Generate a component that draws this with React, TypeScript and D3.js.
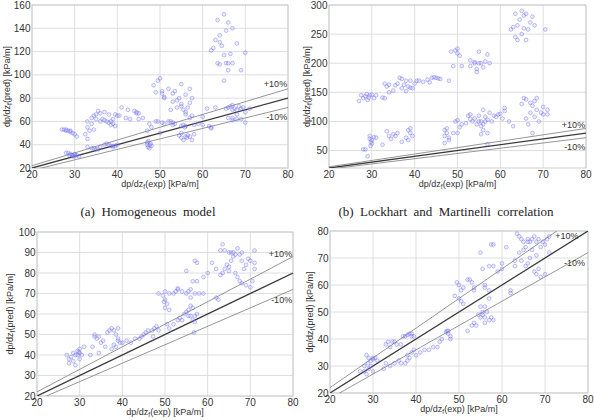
import { scaleLinear, line, range } from "d3";

// experimental vs predicted frictional pressure gradient, kPa/m
const homogeneousPts: [number, number][] = [
  [27, 53], [27.5, 53], [28, 52], [28.5, 52], [29, 51], [29.5, 50], [30, 49], [30.5, 47], [28, 53], [29, 52],
  [28, 33], [28.5, 33], [29, 32], [29.5, 31], [30, 31], [30, 30], [30.5, 31], [29.5, 30], [30, 32], [31, 30], [28.8, 31],
  [33, 38], [34, 37], [34.5, 37], [35, 36], [35.5, 36], [36, 38], [37, 40], [37.5, 41], [38, 40], [38.5, 39], [39, 39], [39.5, 39], [40, 40], [39, 38],
  [33, 60], [33, 55], [33.5, 52], [34, 58], [34, 63], [34.5, 65], [35, 66], [35, 62], [35.5, 69], [36, 67], [36.5, 62], [37, 61], [37, 68],
  [37.5, 60], [38, 59], [38, 66], [38.5, 60], [38.5, 57], [39, 58], [39, 62], [39.5, 66], [40, 65], [40.5, 65], [39.5, 56], [36, 60], [32.5, 49], [33, 45], [34.5, 53],
  [41, 72], [42, 63], [42.5, 70], [43, 62], [44, 69], [44.5, 67], [45, 67], [45, 62], [46, 63], [44.5, 68],
  [47, 42], [47, 40], [47.2, 38], [47.5, 37], [47.8, 41], [48, 39], [47.3, 43], [47.6, 39.5], [47, 52], [48, 55], [47.5, 58],
  [48.5, 91], [49, 85], [49.5, 95], [50, 97], [50.5, 86], [51, 81], [51, 80], [50.5, 84],
  [49, 60], [49.5, 60], [50, 50], [50.5, 59], [51, 58], [52, 60], [52.5, 60], [53, 59], [53.5, 58], [53, 57],
  [52, 88], [53, 84], [53.5, 86], [54, 78], [54.5, 80], [55, 92], [55, 73], [55.5, 70], [56, 66], [56, 83], [56.5, 72], [57, 76], [57, 88],
  [57.5, 80], [57.5, 65], [57, 63], [56, 68], [55, 75], [54, 72], [53, 77], [52.5, 70],
  [54.5, 48], [55, 46], [55.5, 44], [56, 47], [56.5, 48], [56.3, 46], [57, 47], [57.5, 44], [58, 49], [55, 50],
  [55, 56], [55.5, 57], [56, 56], [55.8, 55], [58, 57], [59, 58],
  [60, 64], [60, 57], [61, 71], [61.5, 56], [62, 55], [63, 72], [62, 54],
  [62, 121], [62.5, 123], [63, 130], [63.5, 110], [63.5, 147], [64, 134], [64, 128], [64.5, 125], [65, 117], [65, 152], [65, 95], [65.5, 138],
  [65.5, 110], [66, 145], [66, 110], [66.5, 118], [66, 104], [67, 140], [67, 110], [68, 127], [69, 104], [70, 119], [64, 109],
  [65.5, 71], [66, 72], [66.5, 73], [67, 70], [67, 74], [67.5, 71], [68, 70], [68, 66], [68.5, 73], [69, 71], [69.5, 72], [70, 59], [70, 68],
  [71, 71], [67, 63], [66, 63], [69, 62], [68, 62], [67, 61],
];

const lockhartPts: [number, number][] = [
  [27, 135], [27.5, 145], [28, 140], [28.5, 143], [29, 137], [29.5, 145], [30, 146], [30.5, 140], [31, 145], [28.8, 147], [29.3, 141],
  [32.5, 141], [33, 140], [33, 165], [33.5, 160], [34, 163], [34, 150], [35, 153], [35.5, 162], [36, 165], [36.5, 175], [37, 173], [37, 157],
  [37.5, 163], [38, 152], [38, 170], [38.5, 160], [39, 158], [39, 170], [39.5, 157], [40, 165], [40.5, 170], [41, 170],
  [42, 168], [43, 172], [43.5, 167], [44, 175], [45, 175], [45.5, 174], [44.5, 176], [46, 173], [48, 170],
  [48.5, 220], [49, 195], [49.5, 222], [50, 225], [50.5, 213], [50, 217], [51, 195],
  [53, 195], [53, 205], [54, 202], [54.5, 190], [54.5, 185], [55, 220], [55, 200], [55.5, 200], [56, 193], [56.5, 203], [57, 215], [57.5, 200], [54, 200],
  [62.5, 258], [63, 262], [63.5, 285], [63.5, 245], [64, 265], [64.5, 275], [65, 250], [65, 290], [65.5, 260], [65.5, 282], [66, 240],
  [66.5, 258], [67, 270], [67.5, 280], [68, 265], [70.5, 258], [66, 285], [64, 240],
  [28, 52], [28.5, 52], [29, 40], [29.5, 75], [29.5, 70], [30, 68], [30, 62], [30.5, 73], [29.7, 58], [29.8, 65], [31, 72],
  [32.5, 60], [33.5, 83], [34, 75], [34.5, 70], [35, 78], [35.5, 75], [36, 80], [37, 65], [38, 72], [38.5, 85], [39, 88], [39, 80], [39.5, 75], [38.5, 68],
  [47, 85], [47, 75], [47, 63], [47.5, 88], [47.5, 80], [48, 72], [48, 68],
  [49, 80], [49.5, 100], [50, 102], [50.5, 90], [51, 95], [52, 97], [52.5, 110], [53, 112], [53, 104], [53.5, 100], [50, 80],
  [54, 105], [54.5, 95], [55, 100], [55, 110], [55.5, 78], [55.5, 100], [56, 120], [56, 95], [56, 85], [56.5, 108], [57, 103], [57, 80],
  [57.5, 115], [58, 100], [58.5, 110], [59, 108], [59.5, 112], [60, 113], [60.5, 105], [61, 118], [61, 123], [62, 100], [63, 92], [55.5, 92], [56.5, 100],
  [65, 130], [65.5, 140], [66, 138], [66.5, 95], [67, 115], [67, 132], [67.5, 80], [67.5, 127], [68, 108], [68, 135], [68.5, 140], [68.5, 120],
  [69, 100], [69.5, 115], [70, 112], [70, 125], [71, 120], [71, 112], [66, 105], [57, 61],
];

const modelCPts: [number, number][] = [
  [27, 40], [27.5, 38], [27.5, 36], [28, 39], [28.5, 37], [28.5, 41], [29, 35], [29.5, 42], [29.5, 40], [30, 43], [30, 41], [30.5, 40], [30, 38], [31, 44], [29.8, 41.5], [29, 40],
  [32.5, 40], [33, 44], [33.5, 49], [33.5, 50], [34, 48], [34.5, 49], [34.5, 41], [35, 46], [35.5, 47], [36, 44], [36.5, 51], [37, 52], [37.5, 53],
  [38, 52], [38.5, 50], [39, 53], [39, 48], [39.5, 46], [38, 45], [37.5, 43], [38.5, 44], [39, 47],
  [40, 46], [41, 47], [42, 46], [43, 48], [44, 48], [44.5, 49], [45, 50], [45.5, 51], [46, 52], [47, 52], [47.5, 53], [48, 54], [47.2, 49], [48.5, 52],
  [48.5, 70], [49.5, 69], [50, 71], [50, 67], [50.5, 65], [50, 63], [49.8, 66], [51, 70], [51, 62], [52, 70], [52.5, 71], [53, 72], [53, 72.5],
  [54, 71], [55, 70], [55.5, 71], [56, 72], [56, 68], [56, 64], [55.5, 62], [56.5, 63], [57, 70], [58, 70], [59, 70],
  [50.5, 55], [51, 53], [52, 55], [53, 57], [53.5, 58], [54, 57], [54.5, 60], [55, 61], [55.5, 59], [56, 59], [56.5, 57], [57, 56], [57.5, 60], [57, 59], [56.8, 51],
  [55, 81], [57, 86], [57.5, 85], [56.5, 76], [57.5, 76],
  [59, 78], [60, 80], [61, 85], [62, 68], [62.5, 67], [62, 82], [63, 79], [63, 91], [63.5, 94],
  [63.5, 80], [64, 82], [64, 91], [64.5, 84], [65, 81], [65, 90], [65.5, 90], [65.5, 86], [66, 90], [66, 88], [66.5, 89], [66.5, 80], [67, 92],
  [67, 78], [67.5, 76], [67.5, 89], [68, 86], [68, 90], [68.5, 82], [69, 74], [69, 84], [69.5, 87], [70, 73], [70, 86], [70.5, 76], [71, 85],
  [71, 82], [71, 91], [65, 83], [68, 75],
];

const modelDPts: [number, number][] = [
  [27, 28], [28, 28], [28.5, 27], [28, 30], [28.5, 34], [29, 33], [29.5, 32], [30, 33], [30, 32.5], [30.5, 33], [29.5, 30], [31, 32], [29, 29], [30, 28], [28.8, 31],
  [32.5, 29], [33, 31], [33, 38], [33.5, 39], [34, 37], [34.5, 39], [35, 39], [35.5, 38], [34, 30], [35, 31], [36, 32], [36.5, 38],
  [37, 41], [37.5, 41], [38, 41.5], [38.5, 42], [39, 41], [39, 42], [39.5, 41], [38, 34], [38.5, 33], [39, 35], [39.5, 36], [37.5, 31], [38, 32], [36.5, 31], [40, 34],
  [41, 35], [42, 36], [43, 36], [44, 37], [45, 37], [45.5, 39], [46, 40], [47, 42.5], [47.2, 43], [47.5, 42], [48, 40], [48, 41], [47.5, 43],
  [49, 56], [49.5, 61], [50, 60], [50, 55], [50.5, 54], [50.5, 58], [51, 59], [51, 53], [52, 62], [52.5, 62], [53, 61], [53.5, 59], [53.5, 58],
  [52, 43], [53, 45], [53.5, 46], [54, 45], [54.5, 49], [55, 48], [55.5, 50], [55.5, 49], [56, 52], [56.5, 50], [56, 48], [57, 47], [57.5, 48], [56, 46], [55, 52], [58, 47],
  [55, 72], [56, 60], [56, 59], [55.5, 66], [57, 67], [57.5, 75], [58, 75], [58, 67], [57, 58], [57, 55],
  [59, 65], [60, 68], [60, 66], [61, 74], [62, 58], [62, 57], [63, 67], [63, 69],
  [63.5, 79], [64, 78], [64, 72], [64.5, 77], [64.5, 69], [65, 76], [65, 73], [65.5, 67], [65.5, 74], [66, 77], [66, 76], [66.5, 76], [66.5, 70],
  [67, 77], [67, 73], [67.5, 65], [67.5, 78], [68, 76], [68, 64], [68.5, 77], [68.5, 66], [69, 74], [69, 63], [69.5, 76], [70, 75], [70, 64],
  [70.5, 77], [71, 72], [71, 78], [66, 68], [68, 71],
];

const xTicks = [20, 30, 40, 50, 60, 70, 80];
const bands = [1, 1.1, 0.9];

interface Panel {
  id: string;
  pts: [number, number][];
  yDomain: [number, number];
  yTicks: number[];
  box: { left: number; right: number; top: number; bottom: number };
  yLabelOffset: number;
  plusLabel: [number, number, "start" | "end"];
  minusLabel: [number, number, "start" | "end"];
}

const panels: Panel[] = [
  {
    id: "a", pts: homogeneousPts, yDomain: [20, 160], yTicks: range(20, 161, 20),
    box: { left: 32, right: 288, top: 5, bottom: 168 }, yLabelOffset: 25,
    plusLabel: [79.8, 90, "end"], minusLabel: [79.8, 61.6, "end"],
  },
  {
    id: "b", pts: lockhartPts, yDomain: [20, 300], yTicks: range(50, 301, 50),
    box: { left: 329, right: 586, top: 5, bottom: 168 }, yLabelOffset: 22,
    plusLabel: [79.8, 89.5, "end"], minusLabel: [79.8, 51.7, "end"],
  },
  {
    id: "c", pts: modelCPts, yDomain: [20, 100], yTicks: range(20, 101, 10),
    box: { left: 37, right: 293, top: 232, bottom: 396 }, yLabelOffset: 27,
    plusLabel: [79.8, 87.6, "end"], minusLabel: [79.8, 65.6, "end"],
  },
  {
    id: "d", pts: modelDPts, yDomain: [20, 80], yTicks: range(20, 81, 10),
    box: { left: 330, right: 588, top: 231, bottom: 393 }, yLabelOffset: 20,
    plusLabel: [72.4, 77.2, "start"], minusLabel: [79.3, 66.9, "end"],
  },
];

const captions = [
  { text: "(a)  Homogeneous  model", x: 148 },
  { text: "(b)  Lockhart  and  Martinelli  correlation", x: 446 },
];

const sans = "'Liberation Sans', Arial, sans-serif";

function AxisLabel({ x, y, rotate, tail }: { x: number; y: number; rotate?: boolean; tail: string }) {
  return (
    <text
      x={x}
      y={y}
      fontSize={9}
      fontFamily={sans}
      fill="#333"
      textAnchor="middle"
      transform={rotate ? `rotate(-90 ${x} ${y})` : undefined}
    >
      dp/dz
      <tspan fontSize={6.5} dy={2}>f</tspan>
      <tspan dy={-2}>{tail}</tspan>
    </text>
  );
}

function Scatter({ p }: { p: Panel }) {
  const { left, right, top, bottom } = p.box;
  const x = scaleLinear([20, 80], [left, right]);
  const y = scaleLinear(p.yDomain, [bottom, top]);
  const ref = line<[number, number]>((d) => x(d[0]), (d) => y(d[1]));
  const clipId = `clip-${p.id}`;

  return (
    <g>
      <defs>
        <clipPath id={clipId}>
          <rect x={left} y={top} width={right - left} height={bottom - top} />
        </clipPath>
      </defs>
      <rect x={left} y={top} width={right - left} height={bottom - top} fill="#fff" />
      {xTicks.map((t) => (
        <line key={`gx${t}`} x1={x(t)} x2={x(t)} y1={top} y2={bottom} stroke="#d6d6d6" strokeWidth={0.8} />
      ))}
      {p.yTicks.map((t) => (
        <line key={`gy${t}`} x1={left} x2={right} y1={y(t)} y2={y(t)} stroke="#d6d6d6" strokeWidth={0.8} />
      ))}
      <rect x={left} y={top} width={right - left} height={bottom - top} fill="none" stroke="#c4c4c4" strokeWidth={0.8} />

      <g clipPath={`url(#${clipId})`}>
        {bands.map((k) => (
          <path
            key={k}
            d={ref([[20, 20 * k], [80, 80 * k]]) ?? ""}
            fill="none"
            stroke={k === 1 ? "#3a3a3a" : "#8a8a8a"}
            strokeWidth={k === 1 ? 1.3 : 0.9}
          />
        ))}
        {p.pts.map((d, i) => (
          <circle
            key={i}
            cx={x(d[0])}
            cy={y(d[1])}
            r={1.9}
            fill="#a0a0ff"
            fillOpacity={0.2}
            stroke="#6262ea"
            strokeOpacity={0.42}
            strokeWidth={0.9}
          />
        ))}
      </g>

      <text x={x(p.plusLabel[0])} y={y(p.plusLabel[1])} fontSize={9} fontFamily={sans} fill="#333" textAnchor={p.plusLabel[2]}>
        +10%
      </text>
      <text x={x(p.minusLabel[0])} y={y(p.minusLabel[1])} fontSize={9} fontFamily={sans} fill="#333" textAnchor={p.minusLabel[2]}>
        -10%
      </text>

      {xTicks.map((t) => (
        <text key={`tx${t}`} x={x(t)} y={bottom + 10} fontSize={10} fontFamily={sans} fill="#333" textAnchor="middle">
          {t}
        </text>
      ))}
      {p.yTicks.map((t) => (
        <text key={`ty${t}`} x={left - 1.5} y={y(t) + 3.5} fontSize={10} fontFamily={sans} fill="#333" textAnchor="end">
          {t}
        </text>
      ))}

      <AxisLabel x={(left + right) / 2} y={bottom + 18.5} tail="(exp) [kPa/m]" />
      <AxisLabel x={left - p.yLabelOffset + 3} y={(top + bottom) / 2} rotate tail="(pred) [kPa/m]" />
    </g>
  );
}

export default function App() {
  return (
    <svg width={594} height={420} style={{ position: "absolute", left: 0, top: 0, background: "#fff" }}>
      {panels.map((p) => (
        <Scatter key={p.id} p={p} />
      ))}
      {captions.map((c) => (
        <text
          key={c.text}
          x={c.x}
          y={216}
          fontSize={13}
          fontFamily="'Liberation Serif', 'Times New Roman', serif"
          fill="#222"
          textAnchor="middle"
          style={{ whiteSpace: "pre" }}
        >
          {c.text}
        </text>
      ))}
    </svg>
  );
}
